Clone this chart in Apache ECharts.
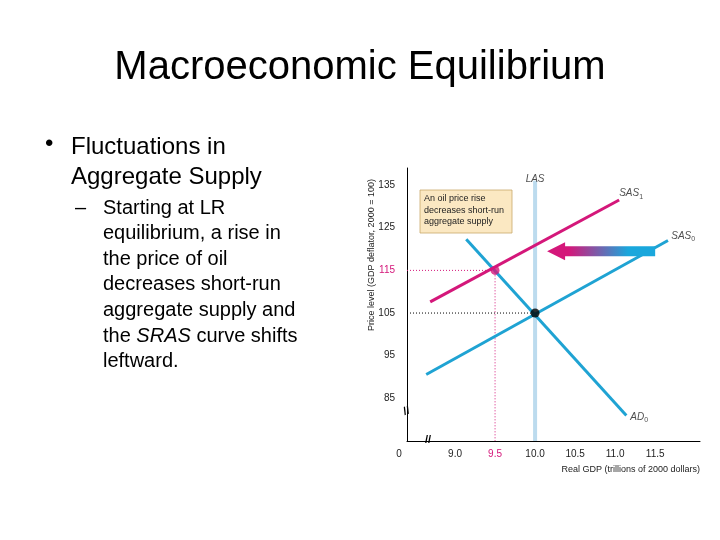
<!DOCTYPE html>
<html><head><meta charset="utf-8">
<script src="https://cdn.jsdelivr.net/npm/echarts@6/dist/echarts.min.js"></script>
<style>html,body{margin:0;background:#fff}#c{width:720px;height:540px}</style>
</head><body><div id="c"></div>
<script>
const xTicks = [9.0, 9.5, 10.0, 10.5, 11.0, 11.5];
const yTicks = [85, 95, 105, 115, 125, 135];
const sas0 = [[8.64, 90.6], [11.66, 122.0]];
const sas1 = [[8.69, 107.6], [11.05, 131.5]];
const ad0 = [[9.14, 122.3], [11.14, 81.0]];
const las = [[10.0, 75], [10.0, 136]];
const eq0 = [10.0, 105];
const eq1 = [9.5, 115];
const shiftArrow = [[11.5, 119.5], [10.15, 119.5]];
const curveLabels = [
  {name: 'LAS', value: [10.0, 136.3]},
  {name: 'SAS1', value: [11.2, 133]},
  {name: 'SAS0', value: [11.85, 123]},
  {name: 'AD0', value: [11.3, 80.5]}
];
const MAG = '#d4177a', CY = '#1fa3d3', LASC = '#bcdbee';
const chart = echarts.init(document.getElementById('c'));
const font = 'Liberation Sans, Arial, sans-serif';
function fmtLabel(n){
  const m = n.match(/^([A-Z]+)(\d)$/);
  return m ? '{i|' + m[1] + '}{s|' + m[2] + '}' : '{i|' + n + '}';
}
const F20 = '20px "Liberation Sans", Arial';
chart.setOption({
  animation: false,
  grid: {left: 407, right: 20, top: 168, bottom: 99},
  xAxis: {type: 'value', min: 8.4, max: 12.06, interval: 0.1,
    axisLine: {lineStyle: {color: '#000'}}, axisTick: {show: false}, splitLine: {show: false},
    name: 'Real GDP (trillions of 2000 dollars)', nameLocation: 'end', nameGap: 0,
    nameTextStyle: {fontSize: 9, color: '#222', align: 'right', verticalAlign: 'top', padding: [24, 0, 0, 0], fontFamily: font},
    axisLabel: {fontSize: 10, color: '#222', margin: 8, showMinLabel: true, showMaxLabel: false, fontFamily: font,
      formatter: v => {
        const r = Math.round(v * 10) / 10;
        if (Math.abs(r - 8.4) < 1e-6) return '{z|0}';
        const t = xTicks.find(t => Math.abs(t - r) < 1e-6);
        if (t === undefined) return '';
        return t === 9.5 ? '{m|9.5}' : t.toFixed(1);
      },
      rich: {m: {color: MAG, fontSize: 10}, z: {fontSize: 10, color: '#222', padding: [0, 16, 0, 0]}}}
  },
  yAxis: {type: 'value', min: 75, max: 139, interval: 1,
    axisLine: {lineStyle: {color: '#000'}}, axisTick: {show: false}, splitLine: {show: false},
    axisLabel: {fontSize: 10, color: '#222', margin: 12, showMinLabel: false, showMaxLabel: false, fontFamily: font,
      formatter: v => {
        const t = yTicks.find(t => Math.abs(t - v) < 1e-6);
        if (t === undefined) return '';
        return t === 115 ? '{m|115}' : String(t);
      }, rich: {m: {color: MAG, fontSize: 10}}}
  },
  series: [
    {type: 'line', data: las, symbol: 'none', lineStyle: {color: LASC, width: 4}, z: 1},
    {type: 'line', data: [[8.4, eq0[1]], eq0], symbol: 'none', lineStyle: {color: '#000', width: 1, type: [1, 2]}},
    {type: 'line', data: [[8.4, eq1[1]], eq1, [eq1[0], 75]], symbol: 'none', lineStyle: {color: MAG, width: 1, type: [1, 2]}},
    {type: 'line', data: sas0, symbol: 'none', lineStyle: {color: CY, width: 3}},
    {type: 'line', data: ad0, symbol: 'none', lineStyle: {color: CY, width: 3}},
    {type: 'line', data: sas1, symbol: 'none', lineStyle: {color: MAG, width: 3}},
    {type: 'scatter', data: [eq0], symbolSize: 9, itemStyle: {color: '#000'}, z: 6},
    {type: 'scatter', data: [eq1], symbolSize: 9, itemStyle: {color: MAG}, z: 6},
    {type: 'scatter', data: curveLabels, symbolSize: 0, z: 6,
      label: {show: true, position: 'inside', formatter: p => fmtLabel(p.name),
        rich: {i: {fontStyle: 'italic', fontSize: 10, color: '#222', fontFamily: font},
               s: {fontSize: 7, color: '#222', verticalAlign: 'bottom', padding: [6, 0, 0, 0], fontFamily: font}}}}
  ]
});
const p0 = chart.convertToPixel({gridIndex: 0}, shiftArrow[0]);
const p1 = chart.convertToPixel({gridIndex: 0}, shiftArrow[1]);
const head = 18, hw = 9, bw = 5;
chart.setOption({graphic: [
    {type: 'text', left: 'center', top: 48, style: {text: 'Macroeconomic Equilibrium', font: '40px "Liberation Sans", Arial', fill: '#000'}},
    {type: 'text', left: 45, top: 132, style: {text: '•', font: '24px "Liberation Sans", Arial', fill: '#000'}},
    {type: 'text', left: 71, top: 132, style: {text: 'Fluctuations in\nAggregate Supply', font: '24px "Liberation Sans", Arial', fill: '#000', lineHeight: 30}},
    {type: 'text', left: 75, top: 198, style: {text: '–', font: F20, fill: '#000'}},
    {type: 'text', left: 103, top: 198, style: {
      text: '{n|Starting at LR}\n{n|equilibrium, a rise in}\n{n|the price of oil}\n{n|decreases short-run}\n{n|aggregate supply and}\n{n|the }{it|SRAS}{n| curve shifts}\n{n|leftward.}',
      font: F20, fill: '#000',
      rich: {n: {font: F20, lineHeight: 25.6}, it: {font: 'italic ' + F20, lineHeight: 25.6}}}},
    {type: 'text', x: 372, y: 255, rotation: Math.PI / 2, style: {text: 'Price level (GDP deflator, 2000 = 100)', font: '9px "Liberation Sans", Arial', fill: '#222', align: 'center', verticalAlign: 'middle'}},
    {type: 'rect', shape: {x: 420, y: 190, width: 92, height: 43}, style: {fill: '#fbe8c2', stroke: '#c9a86a', lineWidth: 0.8}, z: 10},
    {type: 'text', left: 424, top: 193, z: 11, style: {text: 'An oil price rise\ndecreases short-run\naggregate supply', font: '9px "Liberation Sans", Arial', fill: '#222', lineHeight: 11.5}},
    {type: 'text', left: 402, top: 405, z: 11, style: {text: '//', font: 'bold 11px "Liberation Sans", Arial', fill: '#000'}, rotation: 0.3},
    {type: 'text', left: 425, top: 434, z: 11, style: {text: '//', font: 'bold 11px "Liberation Sans", Arial', fill: '#000'}},
    {type: 'polygon', z: 12, shape: {points: [
      [p0[0], p0[1] - bw], [p1[0] + head, p1[1] - bw], [p1[0] + head, p1[1] - hw],
      [p1[0], p1[1]], [p1[0] + head, p1[1] + hw], [p1[0] + head, p1[1] + bw], [p0[0], p0[1] + bw]]},
    style: {fill: new echarts.graphic.LinearGradient(0, 0, 1, 0, [
      {offset: 0, color: MAG}, {offset: 0.2, color: MAG}, {offset: 0.75, color: '#1aa7dc'}, {offset: 1, color: '#1aa7dc'}])}}
]});
</script></body></html>
